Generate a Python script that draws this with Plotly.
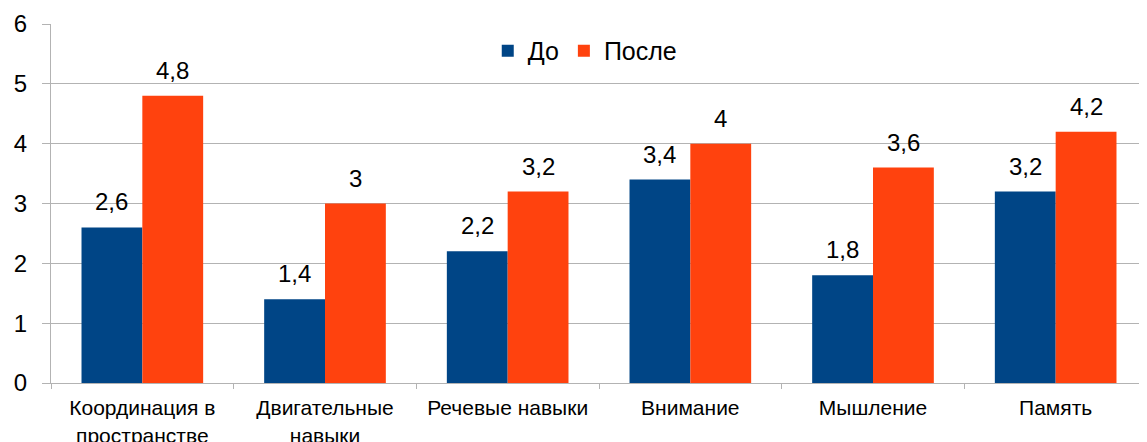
import plotly.graph_objects as go

categories = ["Координация в<br>пространстве", "Двигательные<br>навыки", "Речевые навыки", "Внимание", "Мышление", "Память"]
before = [2.6, 1.4, 2.2, 3.4, 1.8, 3.2]
after = [4.8, 3.0, 3.2, 4.0, 3.6, 4.2]
series_names = ["До", "После"]
colors = ["#004586", "#ff420e"]
y_ticks = [0, 1, 2, 3, 4, 5, 6]

def fmt(v):
    s = ("%g" % v).replace(".", ",")
    return s

fig = go.Figure()
for name, vals, col in zip(series_names, [before, after], colors):
    fig.add_trace(go.Bar(x=categories, y=vals, name=name, marker=dict(color=col, line=dict(width=0))))

annotations = []
for i, (vals, shift) in enumerate([(before, -30.5), (after, 30.5)]):
    for c, v in zip(categories, vals):
        annotations.append(dict(x=c, y=v, text=fmt(v), showarrow=False, xref="x", yref="y",
                                xshift=shift, yshift=10, yanchor="bottom",
                                font=dict(family="Liberation Sans, Arial", size=24, color="#000")))

fig.update_layout(
    width=1139, height=434,
    margin=dict(l=43, r=0, t=16, b=59, autoexpand=False),
    paper_bgcolor="white", plot_bgcolor="white",
    barmode="group", bargap=0.334, bargroupgap=0,
    font=dict(family="Liberation Sans, Arial", color="#000"),
    legend=dict(orientation="h", x=0.487, xanchor="center", y=0.925, yanchor="middle",
                font=dict(size=25), bgcolor="rgba(0,0,0,0)", itemwidth=30),
    annotations=annotations,
    showlegend=True,
)
fig.update_yaxes(range=[0, 6], tickvals=y_ticks, ticktext=[str(t) for t in y_ticks],
                 showgrid=True, gridcolor="#b3b3b3", gridwidth=1,
                 showline=True, linecolor="#b3b3b3", linewidth=1,
                 ticks="outside", ticklen=8, tickcolor="#b3b3b3",
                 tickfont=dict(size=24), zeroline=False, ticklabelstandoff=10, automargin=False)
fig.update_xaxes(showline=True, linecolor="#b3b3b3", linewidth=1,
                 ticks="outside", ticklen=5, tickcolor="#b3b3b3", tickson="boundaries",
                 tickfont=dict(size=21), automargin=False, ticklabelstandoff=6)

fig.write_html("out.html")
